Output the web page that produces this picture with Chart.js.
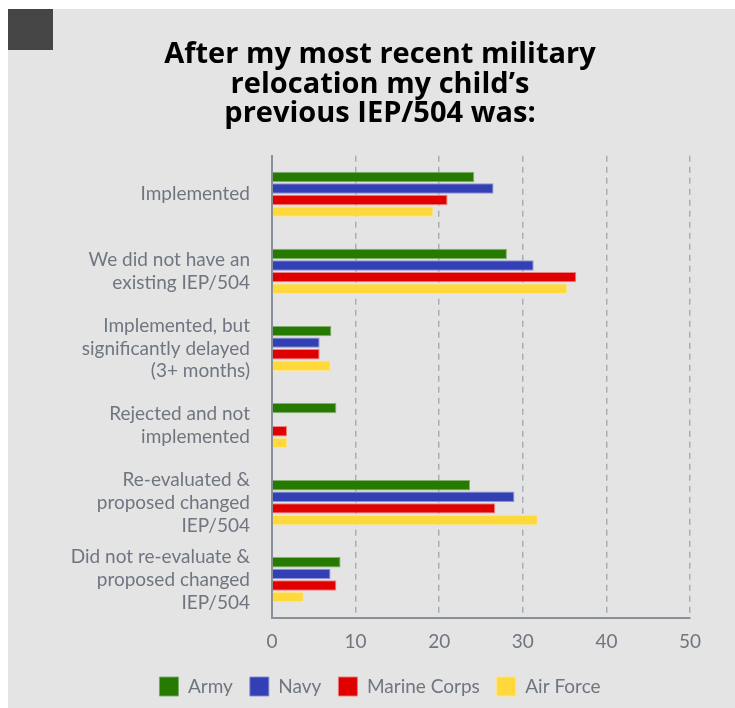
<!DOCTYPE html>
<html>
<head>
<meta charset="utf-8">
<script src="https://cdn.jsdelivr.net/npm/chart.js@4/dist/chart.umd.min.js"></script>
<style>
  html, body { margin: 0; padding: 0; background: #ffffff; }
  #panel { position: absolute; left: 8px; top: 9px; width: 727px; height: 699px; background: #e4e4e4; }
  #sq { position: absolute; left: 0; top: 0; width: 45px; height: 41px; background: #454545; }
  #wrap { position: absolute; left: 0; top: 0; width: 727px; height: 699px; }
</style>
</head>
<body>
<div id="panel">
  <div id="wrap"><canvas id="c" width="727" height="699"></canvas></div>
  <div id="sq"></div>
</div>
<script>
const titleLines = ["After my most recent military", "relocation my child\u2019s", "previous IEP/504 was:"];
const categories = [
  ["Implemented"],
  ["We did not have an", "existing IEP/504"],
  ["Implemented, but", "significantly delayed", "(3+ months)"],
  ["Rejected and not", "implemented"],
  ["Re-evaluated &", "proposed changed", "IEP/504"],
  ["Did not re-evaluate &", "proposed changed", "IEP/504"]
];
const seriesNames = ["Army", "Navy", "Marine Corps", "Air Force"];
const army = [24.2, 28.1, 7.1, 7.7, 23.7, 8.2];
const navy = [26.5, 31.3, 5.7, 0, 29.0, 7.0];
const marineCorps = [21.0, 36.4, 5.7, 1.8, 26.7, 7.7];
const airForce = [19.3, 35.3, 7.0, 1.8, 31.8, 3.8];
const xTicks = [0, 10, 20, 30, 40, 50];

const colors = ["#267a00", "#3340b5", "#e00000", "#ffd93b"];
const borders = ["rgba(120,170,100,0.9)", "rgba(130,140,210,0.9)", "rgba(240,120,120,0.9)", "rgba(255,230,130,0.9)"];
const seriesValues = [army, navy, marineCorps, airForce];

const labelColor = "#6f7680";
const axisColor = "#8a9099";
const padL = 62, padR = 45;

new Chart(document.getElementById("c"), {
  type: "bar",
  data: {
    labels: categories,
    datasets: seriesNames.map((n, i) => ({
      label: n,
      data: seriesValues[i],
      backgroundColor: colors[i],
      borderColor: borders[i],
      borderWidth: 1,
      categoryPercentage: 0.6,
      barPercentage: 0.9
    }))
  },
  options: {
    indexAxis: "y",
    responsive: false,
    animation: false,
    layout: { padding: { left: padL, right: padR, top: 0, bottom: 2 } },
    plugins: {
      title: {
        display: true,
        text: titleLines,
        color: "#000000",
        font: { family: "'Open Sans'", size: 29, weight: "bold", lineHeight: 1.02 },
        padding: { top: 31, bottom: 27 }
      },
      legend: {
        position: "bottom",
        labels: {
          boxWidth: 19,
          boxHeight: 19,
          padding: 17,
          color: labelColor,
          font: { family: "Lato", size: 19 }
        }
      },
      tooltip: { enabled: false }
    },
    scales: {
      x: {
        min: 0, max: 50,
        afterBuildTicks: (s) => { s.ticks = xTicks.map(v => ({ value: v })); },
        afterFit: (s) => { s.height -= 5; },
        ticks: { color: labelColor, font: { family: "Lato", size: 19 }, padding: 12 },
        grid: { color: "#a9adb3", lineWidth: 1.5, drawTicks: false },
        border: { display: true, color: axisColor, width: 2, dash: [6, 5] }
      },
      y: {
        afterFit: (s) => { s.width = 264 - padL; },
        ticks: { color: labelColor, font: { family: "Lato", size: 19, lineHeight: 1.2 }, padding: 22 },
        grid: { display: false, drawTicks: false },
        border: { display: true, color: axisColor, width: 2 }
      }
    }
  }
});
</script>
</body>
</html>
